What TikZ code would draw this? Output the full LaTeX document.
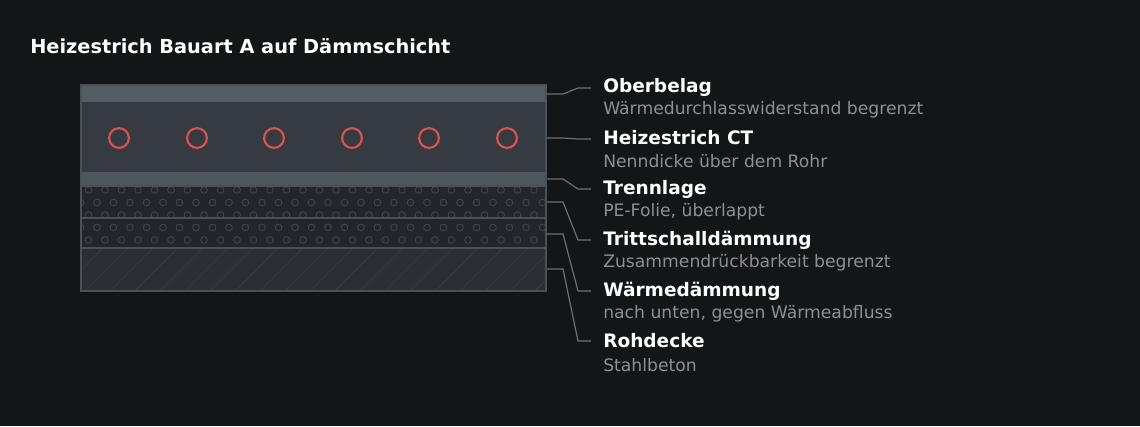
\documentclass[tikz,border=0pt]{standalone}
\usepackage{fontspec}
\setmainfont{DejaVu Sans}
\begin{document}
\begin{tikzpicture}[x=0.75pt,y=-0.75pt,
  ttl/.style={anchor=west,font=\bfseries\fontsize{13.9}{15}\selectfont,text=white,inner sep=0},
  sub/.style={anchor=west,font=\fontsize{12.9}{14}\selectfont,text=subc,inner sep=0},
  lead/.style={draw=leadc,line width=0.9pt},
  pipe/.style={draw=pipec,line width=1.6pt,circle,minimum size=14.8pt,inner sep=0}]
\definecolor{bg}{HTML}{131519}
\definecolor{c1}{HTML}{555D62}
\definecolor{c2}{HTML}{353B41}
\definecolor{c3}{HTML}{4F565B}
\definecolor{c4}{HTML}{22262B}
\definecolor{c5}{HTML}{2B2F34}
\definecolor{bord}{HTML}{4A5056}
\definecolor{dotc}{HTML}{3D444B}
\definecolor{subc}{HTML}{8A9095}
\definecolor{leadc}{HTML}{6A7075}
\definecolor{pipec}{HTML}{D9534F}
\fill[bg] (0,0) rectangle (1140,426);
\useasboundingbox (0,0) rectangle (1140,426);
\node[anchor=west,font=\bfseries\fontsize{14.5}{16}\selectfont,text=white,inner sep=0] (title) at (30,46) {Heizestrich Bauart A auf Dämmschicht};
% layers
\fill[c1] (81,85) rectangle (546,102);
\fill[c2] (81,102) rectangle (546,172);
\fill[c3] (81,172) rectangle (546,186);
\fill[c4] (81,186) rectangle (546,248);
\fill[c5] (81,248) rectangle (546,291);
\begin{scope}
\clip (81,186) rectangle (546,248);
\foreach \r in {0,...,4}{
  \pgfmathsetmacro{\yy}{190+\r*12.5}
  \pgfmathsetmacro{\off}{mod(\r,2)*8.5}
  \foreach \i in {0,...,28}{
    \draw[dotc,line width=0.7pt] (72+\off+\i*16.5,\yy) circle (2.5pt);
  }
}
\end{scope}
\begin{scope}
\clip (81,248) rectangle (546,291);
\foreach \i in {0,...,22}{
  \draw[dotc!70!c5,line width=0.5pt] (60+\i*25,291) -- (103+\i*25,248);
}
\end{scope}
\draw[bord,line width=0.8pt] (81,218) -- (546,218);
\draw[bord,line width=0.8pt] (81,248) -- (546,248);
\draw[bord,line width=0.8pt] (81,186) -- (546,186);
\draw[bord,line width=0.9pt] (81,85) rectangle (546,291);
\foreach \x [count=\k] in {119,197,274,352,429,507}
  \node[pipe] (p\k) at (\x,138) {};
% labels
\node[ttl] (t1) at (603,87) {Oberbelag};
\node[sub] (s1) at (603,110) {Wärmedurchlasswiderstand begrenzt};
\node[ttl] (t2) at (603,138) {Heizestrich CT};
\node[sub] (s2) at (603,161) {Nenndicke über dem Rohr};
\node[ttl] (t3) at (603,189) {Trennlage};
\node[sub] (s3) at (603,212) {PE-Folie, überlappt};
\node[ttl] (t4) at (603,240) {Trittschalldämmung};
\node[sub] (s4) at (603,263) {Zusammendrückbarkeit begrenzt};
\node[ttl] (t5) at (603,291) {Wärmedämmung};
\node[sub] (s5) at (603,314) {nach unten, gegen Wärmeabfluss};
\node[ttl] (t6) at (603,341) {Rohdecke};
\node[sub] (s6) at (603,365) {Stahlbeton};
% leaders
\foreach \ys/\yt [count=\k] in {94/88,138/139,179/189,202/240,234/291,269/341}{
  \coordinate (a\k) at (547,\ys);
  \coordinate (e\k) at (591,\yt);
  \draw[lead] (a\k) -- (563,\ys) -- (578,\yt) -- (e\k);
}
\end{tikzpicture}
\end{document}
